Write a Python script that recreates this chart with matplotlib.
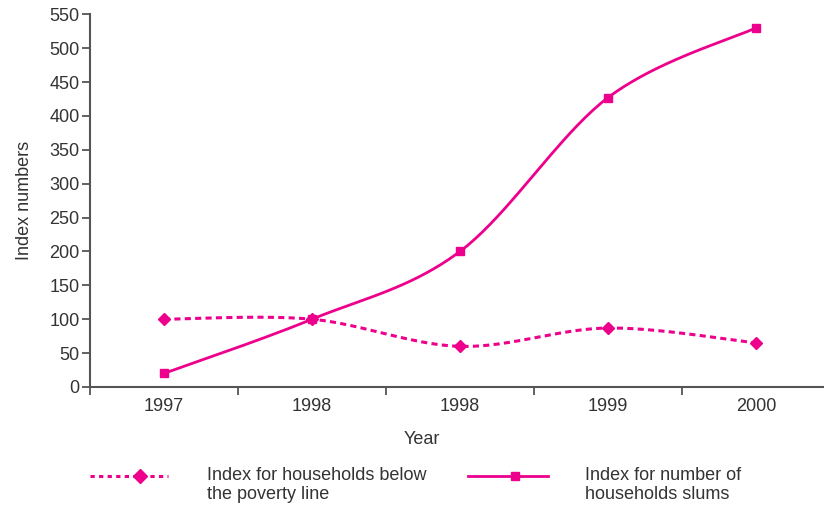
import numpy as np
import matplotlib
matplotlib.use("Agg")
import matplotlib.pyplot as plt
from matplotlib.lines import Line2D

# ---- data ----
categories = ["1997", "1998", "1998", "1999", "2000"]
poverty_index = [100, 100, 60, 87, 65]
slum_index = [20, 100, 200, 427, 530]
y_ticks = list(range(0, 551, 50))
series_labels = ["Index for households below\nthe poverty line",
                 "Index for number of\nhouseholds slums"]

plt.rcParams['font.family'] = ['Liberation Sans', 'DejaVu Sans']
TEXT = '#333333'
AXC = '#555555'
MAG = '#EC008C'
FS = 13
W, H = 824, 505


def smooth(xs, ys, n=40):
    """Catmull-Rom style cubic Bezier smoothing (like spreadsheet 'smoothed line')."""
    P = np.column_stack([xs, ys]).astype(float)
    m = len(P)
    out = [P[0]]
    for i in range(m - 1):
        p0 = P[i - 1] if i > 0 else P[i]
        p1 = P[i]
        p2 = P[i + 1]
        p3 = P[i + 2] if i + 2 < m else P[i + 1]
        c1 = p1 + (p2 - p0) / 6.0
        c2 = p2 - (p3 - p1) / 6.0
        t = np.linspace(0, 1, n)[1:, None]
        seg = ((1 - t) ** 3) * p1 + 3 * ((1 - t) ** 2) * t * c1 + 3 * (1 - t) * t ** 2 * c2 + t ** 3 * p2
        out.extend(seg)
    out = np.array(out)
    return out[:, 0], out[:, 1]


fig = plt.figure(figsize=(W / 100, H / 100), dpi=100)
ax = fig.add_axes([0.1092, 0.2337, 0.898, 0.738])

x = np.arange(len(categories))

sx, sy = smooth(x, poverty_index)
ax.plot(sx, sy, color=MAG, lw=2.2, ls=(0, (2.0, 1.4)), dash_capstyle='butt')
ax.plot(x, poverty_index, ls='none', marker='D', ms=6.5, color=MAG, mec=MAG)

sx2, sy2 = smooth(x, slum_index)
ax.plot(sx2, sy2, color=MAG, lw=2.0)
ax.plot(x, slum_index, ls='none', marker='s', ms=5.5, color=MAG, mec=MAG)

ax.set_xlim(-0.5, len(categories) - 0.5)
ax.set_ylim(0, 550)
ax.set_yticks(y_ticks)
ax.set_yticklabels([str(v) for v in y_ticks])

# ticks at category boundaries, labels at centers
ax.set_xticks(np.arange(len(categories) + 1) - 0.5)
ax.set_xticklabels([])
ax.set_xticks(x, minor=True)
ax.set_xticklabels(categories, minor=True)
ax.tick_params(axis='x', which='major', direction='out', length=6, width=1.3, color=AXC)
ax.tick_params(axis='x', which='minor', length=0, pad=8, labelsize=FS, labelcolor=TEXT)
ax.tick_params(axis='y', direction='out', length=6, width=1.3, color=AXC, labelsize=FS,
               labelcolor=TEXT, pad=1.5)

for s in ['top', 'right']:
    ax.spines[s].set_visible(False)
for s in ['left', 'bottom']:
    ax.spines[s].set_color(AXC)
    ax.spines[s].set_linewidth(1.5)

ax.set_ylabel("Index numbers", fontsize=FS, color=TEXT, labelpad=12)
ax.set_xlabel("Year", fontsize=FS, color=TEXT)
ax.xaxis.set_label_coords(0.449, -0.117)

# ---- legend drawn below the axes ----
def fx(px):
    return px / W


def fy(py):
    return 1 - py / H


ly = fy(476)
fig.add_artist(Line2D([fx(90), fx(168)], [ly, ly], transform=fig.transFigure, color=MAG,
                      lw=2.2, ls=(0, (1.4, 1.4)), dash_capstyle='butt'))
fig.add_artist(Line2D([fx(140)], [ly], transform=fig.transFigure, color=MAG, ls='none',
                      marker='D', ms=7, mec=MAG))
fig.text(fx(207), fy(485), series_labels[0], fontsize=FS, color=TEXT, va='center', ha='left',
         linespacing=1.2)

fig.add_artist(Line2D([fx(468), fx(548)], [ly, ly], transform=fig.transFigure, color=MAG,
                      lw=2.0))
fig.add_artist(Line2D([fx(515)], [ly], transform=fig.transFigure, color=MAG, ls='none',
                      marker='s', ms=6, mec=MAG))
fig.text(fx(585), fy(485), series_labels[1], fontsize=FS, color=TEXT, va='center', ha='left',
         linespacing=1.2)

fig.savefig("out.png", dpi=100)
